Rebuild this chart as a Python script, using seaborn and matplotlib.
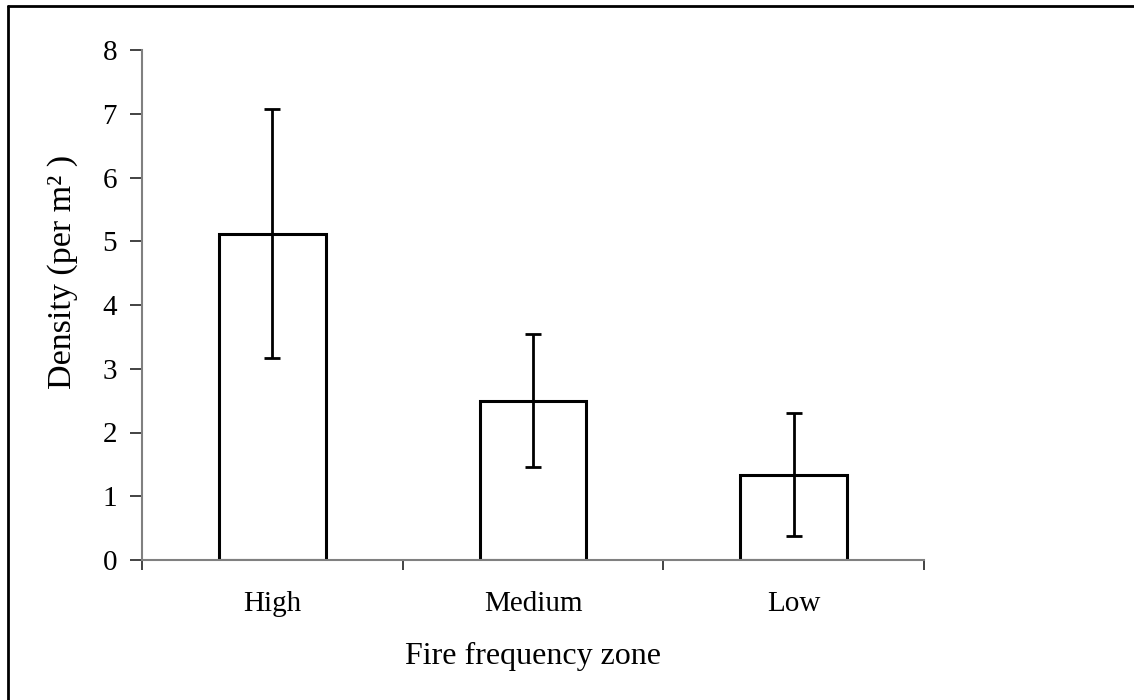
import matplotlib
matplotlib.use("Agg")
import matplotlib.pyplot as plt
import seaborn as sns
import pandas as pd
import numpy as np
from matplotlib.lines import Line2D

zones = ["High", "Medium", "Low"]
density = [5.12, 2.50, 1.34]
err = [1.95, 1.04, 0.97]
yticks = [0, 1, 2, 3, 4, 5, 6, 7, 8]

sns.set_theme(style="white")
plt.rcParams["font.family"] = ["Liberation Serif", "DejaVu Serif"]
plt.rcParams["text.color"] = "black"
plt.rcParams["axes.labelcolor"] = "black"
plt.rcParams["xtick.color"] = "black"
plt.rcParams["ytick.color"] = "black"

df = pd.DataFrame({"zone": zones, "density": density})

fig = plt.figure(figsize=(11.34, 7.0), dpi=100)
ax = fig.add_axes([142/1134, 1 - 560/700, (924 - 142)/1134, (560 - 50)/700])

sns.barplot(data=df, x="zone", y="density", order=zones, ax=ax,
            color="white", edgecolor="black", linewidth=2.2, width=0.41,
            errorbar=None, saturation=1)
ax.errorbar(np.arange(len(zones)), density, yerr=err, fmt="none",
            ecolor="black", elinewidth=2.0, capsize=5.5, capthick=2.0, zorder=5)

ax.set_xlim(-0.5, 2.5)
ax.set_ylim(0, 8)
ax.set_yticks(yticks)
ax.set_yticklabels([str(t) for t in yticks])

for s in ["top", "right"]:
    ax.spines[s].set_visible(False)
for s in ["left", "bottom"]:
    ax.spines[s].set_color("#808080")
    ax.spines[s].set_linewidth(1.5)

ax.tick_params(axis="y", which="major", direction="out", length=9, width=1.2,
               color="#222222", left=True, labelsize=21, pad=9, labelcolor="black")
ax.tick_params(axis="x", which="major", length=0, labelsize=21, pad=22, labelcolor="black")
ax.set_xticks([-0.5, 0.5, 1.5, 2.5], minor=True)
ax.tick_params(axis="x", which="minor", direction="out", length=7, width=1.2,
               color="#222222", bottom=True)

ax.set_xlabel("Fire frequency zone", fontsize=23, labelpad=18, color="black")
ax.set_ylabel("Density (per m² )", fontsize=24.5, color="black")
ax.yaxis.set_label_coords(-0.082, 0.565)

# outer frame (top and left edges visible)
fig.add_artist(Line2D([8/1134, 1.0], [1 - 6/700, 1 - 6/700], transform=fig.transFigure,
                      color="black", lw=2.0))
fig.add_artist(Line2D([8/1134, 8/1134], [0.0, 1 - 6/700], transform=fig.transFigure,
                      color="black", lw=2.0))

fig.savefig("out.png", dpi=100, facecolor="white")
